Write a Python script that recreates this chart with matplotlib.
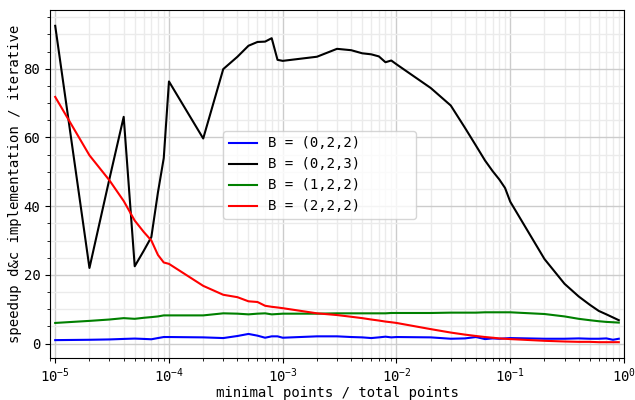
import matplotlib
matplotlib.use("Agg")
import matplotlib.pyplot as plt
from matplotlib.ticker import MultipleLocator

plt.rcParams['font.family'] = ['DejaVu Sans Mono']
plt.rcParams['mathtext.fontset'] = 'custom'
plt.rcParams['mathtext.rm'] = 'DejaVu Sans Mono'
plt.rcParams['mathtext.it'] = 'DejaVu Sans Mono'
plt.rcParams['mathtext.bf'] = 'DejaVu Sans Mono'
plt.rcParams['font.size'] = 10.1

# fraction of minimal points
ratio = [1e-5, 2e-5, 3e-5, 4e-5, 5e-5, 6e-5, 7e-5, 8e-5, 9e-5,
         1e-4, 2e-4, 3e-4, 4e-4, 5e-4, 6e-4, 7e-4, 8e-4, 9e-4,
         1e-3, 2e-3, 3e-3, 4e-3, 5e-3, 6e-3, 7e-3, 8e-3, 9e-3,
         1e-2, 2e-2, 3e-2, 4e-2, 5e-2, 6e-2, 7e-2, 8e-2, 9e-2,
         1e-1, 2e-1, 3e-1, 4e-1, 5e-1, 6e-1, 7e-1, 8e-1, 9e-1]

speedup_022 = [1.0, 1.1, 1.2, 1.35, 1.45, 1.35, 1.25, 1.6, 1.9,
               1.9, 1.8, 1.6, 2.2, 2.8, 2.3, 1.7, 2.1, 2.1,
               1.7, 2.1, 2.1, 1.9, 1.8, 1.6, 1.8, 2.0, 1.8,
               1.9, 1.8, 1.4, 1.5, 1.9, 1.3, 1.5, 1.4, 1.5,
               1.6, 1.4, 1.4, 1.5, 1.4, 1.4, 1.5, 1.1, 1.4]

speedup_023 = [92.5, 22.0, 48.0, 66.0, 22.5, 27.0, 31.0, 44.0, 54.0,
               76.3, 59.7, 79.9, 83.5, 86.7, 87.8, 87.9, 88.9, 82.6,
               82.3, 83.5, 85.8, 85.4, 84.5, 84.2, 83.6, 81.9, 82.4,
               81.3, 74.4, 69.3, 62.8, 57.6, 53.3, 50.2, 47.8, 45.3,
               41.3, 24.6, 17.4, 13.7, 11.3, 9.5, 8.5, 7.6, 6.8]

speedup_122 = [6.0, 6.6, 7.0, 7.4, 7.2, 7.5, 7.7, 7.9, 8.2,
               8.2, 8.2, 8.8, 8.7, 8.5, 8.7, 8.8, 8.5, 8.6,
               8.7, 8.7, 8.8, 8.8, 8.8, 8.8, 8.8, 8.8, 8.9,
               8.9, 8.9, 9.0, 9.0, 9.0, 9.1, 9.1, 9.1, 9.1,
               9.1, 8.6, 7.9, 7.2, 6.8, 6.5, 6.3, 6.2, 6.1]

speedup_222 = [71.8, 54.8, 47.5, 41.5, 35.8, 32.5, 30.0, 25.8, 23.6,
               23.2, 16.8, 14.2, 13.5, 12.3, 12.1, 11.0, 10.7, 10.5,
               10.3, 8.8, 8.3, 7.8, 7.4, 7.0, 6.7, 6.4, 6.2,
               6.0, 4.2, 3.2, 2.6, 2.2, 1.9, 1.7, 1.5, 1.4,
               1.3, 0.8, 0.6, 0.5, 0.5, 0.4, 0.4, 0.4, 0.4]

labels = ["B = (0,2,2)", "B = (0,2,3)", "B = (1,2,2)", "B = (2,2,2)"]

fig = plt.figure(figsize=(6.35, 4.0), dpi=100)
ax = fig.add_axes([50 / 635, 42 / 400, 574 / 635, 348 / 400])

ax.plot(ratio, speedup_022, color="blue", label=labels[0] + " " * 6)
ax.plot(ratio, speedup_023, color="black", label=labels[1] + " " * 6)
ax.plot(ratio, speedup_122, color="green", label=labels[2] + " " * 6)
ax.plot(ratio, speedup_222, color="red", label=labels[3] + " " * 6)

ax.set_xscale("log")
ax.set_xlim(9e-6, 1)
ax.yaxis.set_major_locator(MultipleLocator(20))
ax.yaxis.set_minor_locator(MultipleLocator(5))
ax.grid(which="major", color="#cccccc", linewidth=1.0)
ax.grid(which="minor", color="#ebebeb", linewidth=1.0)
ax.set_axisbelow(True)
ax.tick_params(axis="x", which="major", pad=2.5)

ax.set_xlabel("minimal points / total points", labelpad=0.5)
ax.set_ylabel("speedup d&c implementation / iterative", labelpad=1)
ax.legend(loc="center", bbox_to_anchor=(0.47, 0.526))

plt.savefig("out.png")
